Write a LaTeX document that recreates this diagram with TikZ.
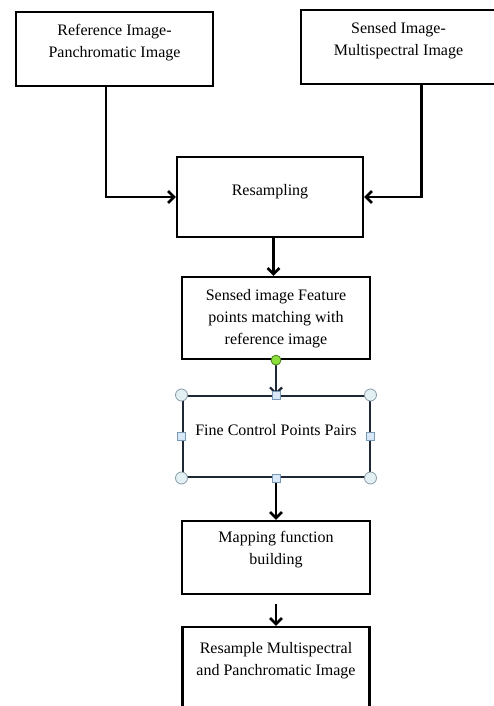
\documentclass[tikz,border=0pt]{standalone}
\usepackage{fontspec}
\setmainfont{Liberation Serif}
\usetikzlibrary{arrows.meta,positioning}
\definecolor{selframe}{RGB}{30,40,52}
\definecolor{handlefill}{RGB}{226,240,244}
\definecolor{handleedge}{RGB}{138,154,166}
\definecolor{sqfill}{RGB}{216,232,246}
\definecolor{sqedge}{RGB}{120,152,184}
\definecolor{rotgreen}{RGB}{140,222,60}
\definecolor{rotedge}{RGB}{72,122,32}
\newcommand{\cornerhandle}[1]{\filldraw[fill=handlefill,draw=handleedge,line width=0.8pt] #1 circle (6pt);}
\newcommand{\sidehandle}[1]{\filldraw[fill=sqfill,draw=sqedge,line width=0.8pt] #1 ++(-4,-4) rectangle ++(8,8);}
\tikzset{
	stepbox/.style 2 args={draw,line width=2.3pt,minimum width=#1,minimum height=#2,inner sep=0pt,align=center,font=\fontsize{16}{22}\selectfont},
	flow/.style={-{Straight Barb[length=6pt,width=12pt]},line width=2.6pt},
}

\begin{document}
\begin{tikzpicture}[x=1pt,y=-1pt]
		\useasboundingbox (0,0) rectangle (493,706);
		\fill[white] (0,0) rectangle (493,706);
		\node[stepbox={197}{74},text depth=17pt] (ref) at (114.5,49) {Reference Image-\\Panchromatic Image};
		\node[stepbox={195}{74},text depth=17pt] (sens) at (398.5,47) {Sensed Image-\\Multispectral Image};
		\node[stepbox={186}{80},text depth=15pt] (resamp) at (270,197) {Resampling};
		\node[stepbox={188}{82},text depth=3pt] (match) at (276,318) {Sensed image Feature\\points matching with\\reference image};
		\node[stepbox={187}{81},text depth=14pt,draw=selframe,line width=2pt] (pairs) at (276,436.5) {Fine Control Points Pairs};
		\node[stepbox={188}{73},text depth=20pt] (mapfn) at (276,557.5) {Mapping function\\building};
		\node[stepbox={187}{84},text depth=21pt] (resmp) at (276,669) {Resample Multispectral\\and Panchromatic Image};
		\draw[flow] ([xshift=-8.5pt]ref.south) |- (resamp.west);
		\draw[flow] ([xshift=23pt]sens.south) |- (resamp.east);
		\draw[flow] ([xshift=3.5pt]resamp.south) -- ([xshift=-2.5pt]match.north);
		\draw[flow,draw=selframe,line width=2.2pt] (match.south) -- (pairs.north);
		\draw[flow] (pairs.south) -- (mapfn.north);
		\draw[flow] ([yshift=-9pt]mapfn.south) -- (resmp.north);
		% selection handles
		\filldraw[fill=rotgreen,draw=rotedge,line width=0.8pt] (match.south) circle (5pt);
		\cornerhandle{(pairs.north west)}\cornerhandle{(pairs.north east)}\cornerhandle{(pairs.south west)}\cornerhandle{(pairs.south east)}
		\sidehandle{(pairs.north)}\sidehandle{(pairs.south)}\sidehandle{(pairs.west)}\sidehandle{(pairs.east)}
\end{tikzpicture}
\end{document}
